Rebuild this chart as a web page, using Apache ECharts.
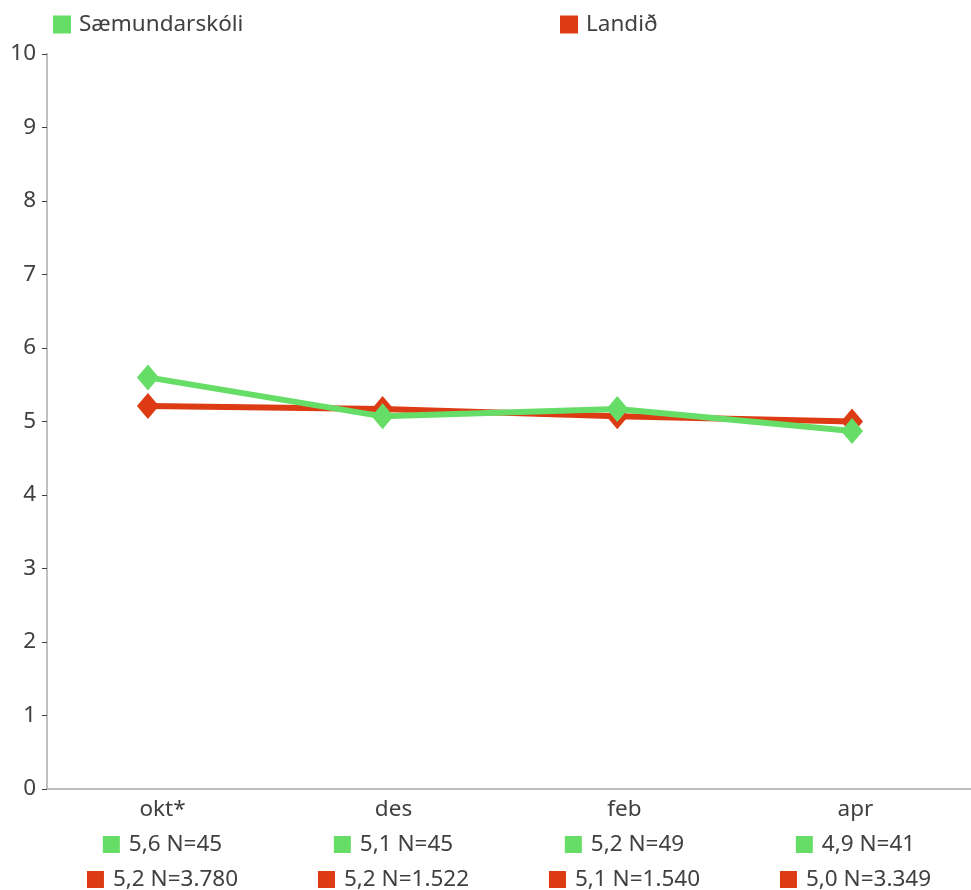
<!DOCTYPE html>
<html><head><meta charset="utf-8">
<script src="https://cdn.jsdelivr.net/npm/echarts@6/dist/echarts.min.js"></script>
<style>html,body{margin:0;padding:0;background:#fff}#c{width:971px;height:890px}</style>
</head><body><div id="c"></div>
<script>
const categories = ['okt*', 'des', 'feb', 'apr'];
const schoolName = 'Sæmundarskóli';
const landName = 'Landið';
const schoolValues = [5.6, 5.07, 5.17, 4.87];
const landValues = [5.21, 5.17, 5.07, 5.0];
const schoolLabels = ['5,6', '5,1', '5,2', '4,9'];
const landLabels = ['5,2', '5,2', '5,1', '5,0'];
const schoolN = ['45', '45', '49', '41'];
const landN = ['3.780', '1.522', '1.540', '3.349'];
const yTicks = [0, 1, 2, 3, 4, 5, 6, 7, 8, 9, 10];

const GREEN = '#66dd66';
const RED = '#dd3b14';
const FONT = '"Noto Sans", sans-serif';
const TXT = '#404040';
const FS = 22.5;

const chart = echarts.init(document.getElementById('c'));
chart.setOption({
  animation: false,
  textStyle: { fontFamily: FONT },
  grid: { left: 47, right: 0, top: 54, bottom: 101, containLabel: false, outerBoundsMode: 'none' },
  legend: [
    { data: [schoolName], left: 53, top: 13, padding: 0, icon: 'rect', itemWidth: 18, itemHeight: 18, itemGap: 10,
      textStyle: { fontSize: FS, color: TXT, fontFamily: FONT, padding: [0, 0, 0, 3] } },
    { data: [landName], left: 560, top: 13, padding: 0, icon: 'rect', itemWidth: 18, itemHeight: 18, itemGap: 10,
      textStyle: { fontSize: FS, color: TXT, fontFamily: FONT, padding: [0, 0, 0, 3] } }
  ],
  xAxis: [
    { type: 'category', data: categories, boundaryGap: true,
      axisLine: { onZero: false, lineStyle: { color: '#bfbfbf', width: 2 } },
      axisTick: { show: false },
      axisLabel: {
        margin: 3, interval: 0,
        formatter: function (v, i) {
          return '{c|' + v + '}\n{g|}{t|' + schoolLabels[i] + ' N=' + schoolN[i] + '}\n{r|}{t|' + landLabels[i] + ' N=' + landN[i] + '}';
        },
        rich: {
          c: { fontSize: FS, color: TXT, lineHeight: 35, fontFamily: FONT },
          t: { fontSize: FS, color: TXT, lineHeight: 35, fontFamily: FONT, padding: [0, 0, 0, 9] },
          g: { width: 17, height: 17, backgroundColor: GREEN },
          r: { width: 17, height: 17, backgroundColor: RED }
        }
      }
    },
    { type: 'value', min: -0.43, max: 3.507, show: false }
  ],
  yAxis: {
    type: 'value', min: 0, max: 10, interval: 1,
    axisLine: { show: true, onZero: false, lineStyle: { color: '#bfbfbf', width: 2 } },
    axisTick: { show: true, length: 5, lineStyle: { color: TXT, width: 1 } },
    splitLine: { show: false },
    axisLabel: { fontSize: FS, color: TXT, margin: 11, fontFamily: FONT,
      formatter: function (v) { return yTicks.indexOf(v) >= 0 ? String(v) : ''; } }
  },
  series: [
    { name: landName, type: 'line', xAxisIndex: 1,
      data: landValues.map((v, i) => [i, v]),
      symbol: 'diamond', symbolSize: [22, 26], showSymbol: true,
      itemStyle: { color: RED }, lineStyle: { color: RED, width: 6 }, z: 2 },
    { name: schoolName, type: 'line', xAxisIndex: 1,
      data: schoolValues.map((v, i) => [i, v]),
      symbol: 'diamond', symbolSize: [22, 26], showSymbol: true,
      itemStyle: { color: GREEN }, lineStyle: { color: GREEN, width: 6 }, z: 3 }
  ]
});
</script></body></html>
